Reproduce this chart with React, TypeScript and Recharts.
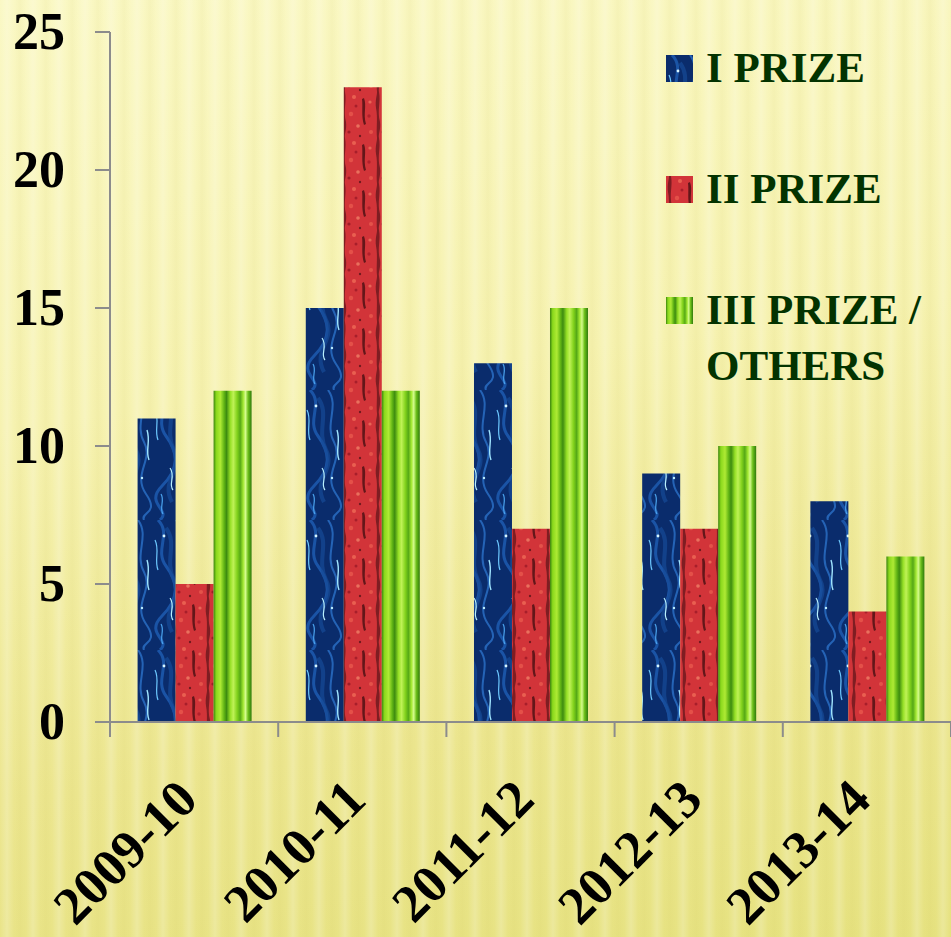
import React from "react";
import { BarChart, Bar, XAxis, YAxis, Legend } from "recharts";

const seasons = ["2009-10", "2010-11", "2011-12", "2012-13", "2013-14"];
const firstPrize = [11, 15, 13, 9, 8];
const secondPrize = [5, 23, 7, 7, 4];
const thirdPrize = [12, 12, 15, 10, 6];
const seriesNames = ["I PRIZE", "II PRIZE", "III PRIZE / OTHERS"];
const yTicks = [0, 5, 10, 15, 20, 25];

const data = seasons.map((season, i) => ({
  season,
  first: firstPrize[i],
  second: secondPrize[i],
  third: thirdPrize[i],
}));

const FONT = "'Liberation Serif', 'DejaVu Serif', serif";
const AXIS = "#8c8c8c";
const FILLS = ["url(#blueTex)", "url(#redTex)", "url(#greenTex)"];

// textures standing in for the picture fills of the original slide
function Textures() {
  return (
    <svg width={0} height={0} style={{ position: "absolute" }}>
      <defs>
        <pattern id="blueTex" patternUnits="userSpaceOnUse" width="38" height="130">
          <rect width="38" height="130" fill="#0a2c6c" />
          <g fill="none">
            <path d="M6 0 C20 14 2 30 14 46 S28 78 10 96 S20 120 8 130" stroke="#1d5bb0" strokeWidth="3" opacity="0.85" />
            <path d="M24 0 C36 16 20 34 30 52 S18 84 32 104 S26 122 30 130" stroke="#2a70c8" strokeWidth="2" opacity="0.8" />
            <path d="M14 8 C26 24 12 40 22 60 S8 90 20 112" stroke="#164a98" strokeWidth="4" opacity="0.7" />
            <path d="M3 20 C8 30 2 40 6 50" stroke="#6cc8ff" strokeWidth="1.2" />
            <path d="M33 40 C37 52 31 60 35 70" stroke="#9fe4ff" strokeWidth="1.4" />
            <path d="M18 78 C24 86 16 94 21 100" stroke="#b8f0ff" strokeWidth="1.2" />
            <path d="M9 104 C13 110 7 118 11 124" stroke="#4aa4f0" strokeWidth="1.2" />
            <circle cx="12" cy="16" r="1.4" fill="#d8f6ff" />
            <circle cx="28" cy="88" r="1.2" fill="#bdefff" />
          </g>
        </pattern>
        <pattern id="redTex" patternUnits="userSpaceOnUse" width="34" height="46">
          <rect width="34" height="46" fill="#d23439" />
          <path d="M5 0 C7 10 3 18 6 30 C7 38 4 42 5 46 L3 46 C2 36 4 26 2 16 C1 8 3 4 3 0 Z" fill="#5c1418" opacity="0.7" />
          <path d="M24 6 C27 14 23 22 26 32 L24 33 C21 24 23 15 22 7 Z" fill="#3e0c0f" opacity="0.75" />
          <circle cx="14" cy="5" r="2" fill="#ef6a56" opacity="0.8" />
          <circle cx="30" cy="10" r="1.6" fill="#f07c62" opacity="0.7" />
          <circle cx="11" cy="22" r="2.2" fill="#e8584c" opacity="0.8" />
          <circle cx="18" cy="34" r="1.8" fill="#f38a6c" opacity="0.7" />
          <circle cx="31" cy="40" r="2" fill="#e95a4d" opacity="0.8" />
          <circle cx="16" cy="14" r="1.5" fill="#a81e2a" />
          <circle cx="29" cy="24" r="1.7" fill="#b3202c" />
          <circle cx="9" cy="40" r="1.6" fill="#a01c27" />
          <circle cx="20" cy="44" r="1.2" fill="#4a0f12" opacity="0.7" />
        </pattern>
        <linearGradient id="greenTex" x1="0" y1="0" x2="1" y2="0">
          <stop offset="0" stopColor="#3a840e" />
          <stop offset="0.07" stopColor="#8ad81c" />
          <stop offset="0.18" stopColor="#aeea34" />
          <stop offset="0.28" stopColor="#5fb314" />
          <stop offset="0.34" stopColor="#3e8c10" />
          <stop offset="0.44" stopColor="#96e026" />
          <stop offset="0.52" stopColor="#bff256" />
          <stop offset="0.62" stopColor="#82d21c" />
          <stop offset="0.7" stopColor="#55a816" />
          <stop offset="0.78" stopColor="#a3e832" />
          <stop offset="0.84" stopColor="#d4fb8c" />
          <stop offset="0.91" stopColor="#6cbf1a" />
          <stop offset="1" stopColor="#2f7a0c" />
        </linearGradient>
      </defs>
    </svg>
  );
}

function YTick(props: any) {
  const { x, y, payload } = props;
  return (
    <text x={x - 28} y={y} dy={17} textAnchor="end" fontFamily={FONT} fontWeight="bold" fontSize={52} fill="#000">
      {payload.value}
    </text>
  );
}

function XTick(props: any) {
  const { x, y, payload, index } = props;
  const half = payload.offset ?? 84;
  const last = index === seasons.length - 1;
  const tx = x + 6;
  const ty = y + 80;
  return (
    <g>
      <line x1={x - half} x2={x - half} y1={y} y2={y + 15} stroke={AXIS} strokeWidth={2} />
      {last && <line x1={x + half} x2={x + half} y1={y} y2={y + 15} stroke={AXIS} strokeWidth={2} />}
      <text
        x={tx}
        y={ty}
        transform={`rotate(-45 ${tx} ${ty})`}
        textAnchor="end"
        fontFamily={FONT}
        fontWeight="bold"
        fontSize={53}
        fill="#000"
      >
        {payload.value}
      </text>
    </g>
  );
}

function PrizeLegend() {
  return (
    <div style={{ width: 285 }}>
      {seriesNames.map((name, i) => (
        <div key={name} style={{ display: "flex", alignItems: "flex-start", marginBottom: 65 }}>
          <svg width={27} height={27} style={{ marginTop: 15, marginRight: 13, flexShrink: 0 }}>
            <rect width={27} height={27} fill={FILLS[i]} />
          </svg>
          <div
            style={{
              fontFamily: FONT,
              fontWeight: "bold",
              fontSize: 43,
              lineHeight: "56px",
              color: "#033300",
              width: 245,
            }}
          >
            {name}
          </div>
        </div>
      ))}
    </div>
  );
}

export default function App() {
  return (
    <div
      style={{
        position: "relative",
        width: 951,
        height: 937,
        background:
          "repeating-linear-gradient(90deg, rgba(255,255,255,0) 0px, rgba(255,255,255,0.2) 7px, rgba(255,255,255,0) 14px, rgba(200,190,80,0.08) 20px, rgba(255,255,255,0) 26px), linear-gradient(172deg, #faf8c4 0%, #f6f2b0 40%, #ece68f 75%, #e6e280 100%)",
      }}
    >
      <style>{`body{margin:0}`}</style>
      <Textures />
      <BarChart
        width={951}
        height={937}
        data={data}
        margin={{ top: 32, right: 0, bottom: 0, left: 0 }}
        barCategoryGap="16.4%"
        barGap={0}
      >
        <XAxis
          dataKey="season"
          height={215}
          tickLine={false}
          tickSize={0}
          tickMargin={0}
          axisLine={{ stroke: AXIS, strokeWidth: 2 }}
          tick={<XTick />}
          interval={0}
        />
        <YAxis
          width={110}
          domain={[0, 25]}
          ticks={yTicks}
          tickSize={15}
          axisLine={{ stroke: AXIS, strokeWidth: 2 }}
          tickLine={{ stroke: AXIS, strokeWidth: 2 }}
          tick={<YTick />}
          interval={0}
        />
        <Legend
          layout="vertical"
          align="center"
          verticalAlign="middle"
          content={<PrizeLegend />}
          wrapperStyle={{ position: "absolute", left: 666, top: 40, width: 285 }}
        />
        <Bar dataKey="first" name={seriesNames[0]} fill={FILLS[0]} isAnimationActive={false} />
        <Bar dataKey="second" name={seriesNames[1]} fill={FILLS[1]} isAnimationActive={false} />
        <Bar dataKey="third" name={seriesNames[2]} fill={FILLS[2]} isAnimationActive={false} />
      </BarChart>
    </div>
  );
}
